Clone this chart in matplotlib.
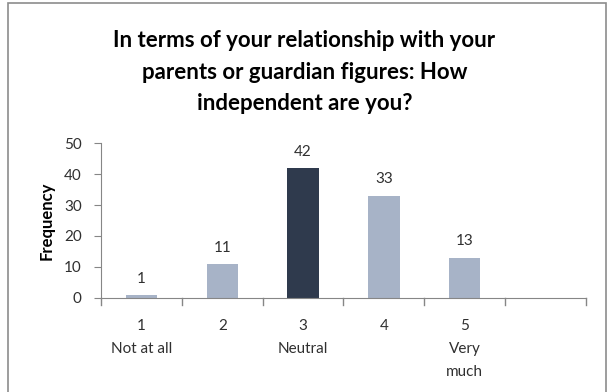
import matplotlib.pyplot as plt
from matplotlib.patches import Rectangle

# survey answers, 1..5 scale (6th slot left empty on the axis)
categories = ["1\nNot at all", "2", "3\nNeutral", "4", "5\nVery\nmuch", ""]
counts = [1, 11, 42, 33, 13, None]
highlight = "3\nNeutral"

plt.rcParams["font.family"] = ["Lato", "DejaVu Sans"]

fig = plt.figure(figsize=(6.09, 3.92), dpi=100)
ax = fig.add_axes([0.166, 0.24, 0.796, 0.395])

light = "#a7b3c7"
dark = "#2f3a4d"
xs = list(range(1, len(categories) + 1))
for x, cat, v in zip(xs, categories, counts):
    if v is None:
        continue
    ax.bar(x, v, width=0.39, color=dark if cat == highlight else light)
    ax.text(x, v + 3.0, str(v), ha="center", va="bottom", fontsize=11, color="#303030")

ax.set_xlim(0.5, len(categories) + 0.5)
ax.set_ylim(0, 50)
ax.set_yticks(range(0, 51, 10))
ax.set_xticks(xs)
ax.set_xticklabels(categories, fontsize=11, color="#303030", linespacing=1.85)
ax.tick_params(axis="y", labelsize=11, labelcolor="#303030", color="#868686",
               length=5, pad=9)
ax.tick_params(axis="x", length=0, pad=15)
# category separators below the axis line
for b in [x + 0.5 for x in range(0, len(categories) + 1)]:
    ax.plot([b, b], [0, -2.2], color="#868686", lw=1, clip_on=False)

for side in ["top", "right"]:
    ax.spines[side].set_visible(False)
for side in ["left", "bottom"]:
    ax.spines[side].set_color("#868686")

ax.set_ylabel("Frequency", fontsize=12, fontweight="bold", labelpad=7)

fig.text(0.5, 0.816,
         "In terms of your relationship with your\nparents or guardian figures: How\nindependent are you?",
         ha="center", va="center", fontsize=16, fontweight="bold", linespacing=1.6)

fig.patches.append(Rectangle((8 / 609, -0.05), 598 / 609, 1.042, transform=fig.transFigure,
                             fill=False, edgecolor="#8c8c8c", lw=1.2))

plt.savefig("out.png")
plt.close()
